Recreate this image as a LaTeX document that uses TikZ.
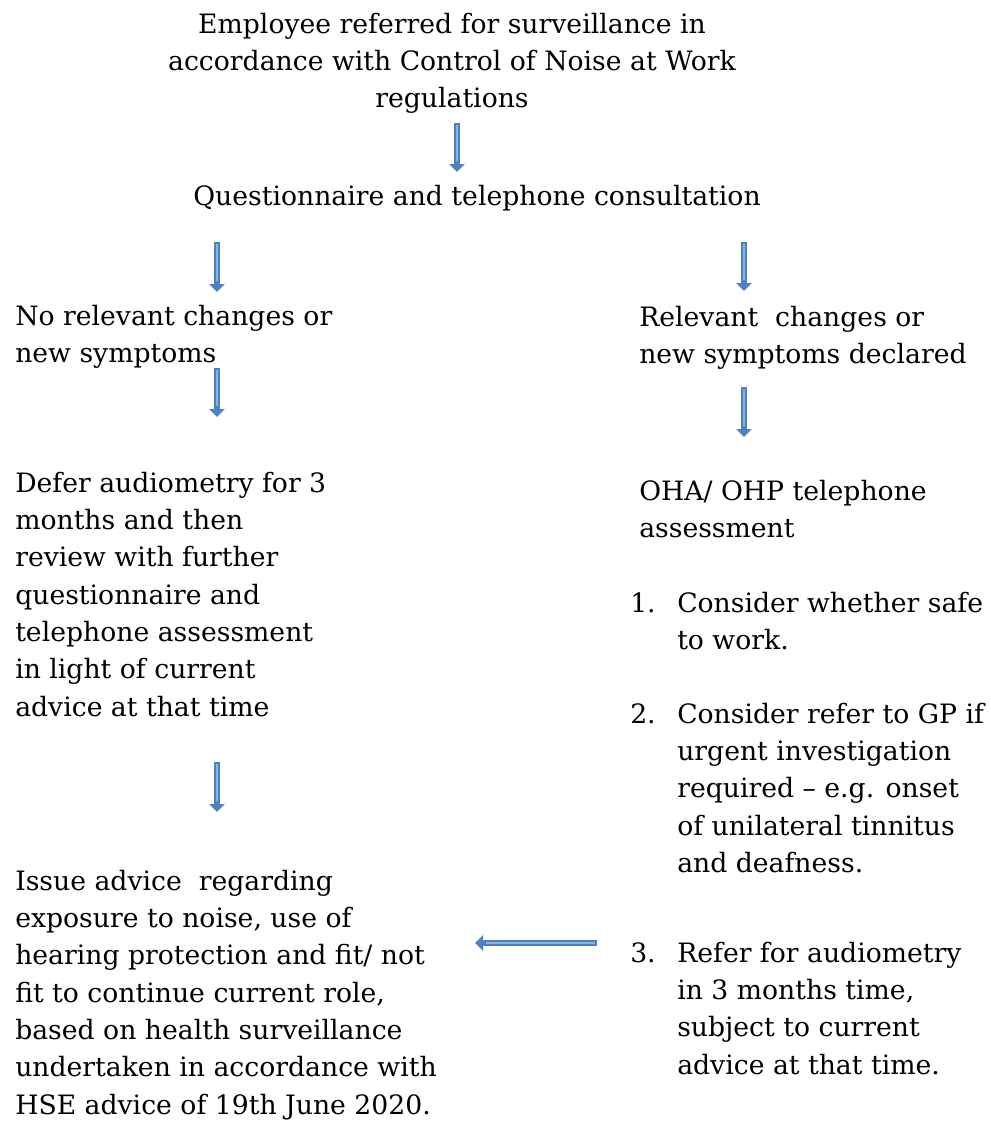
\documentclass[tikz,border=0pt]{standalone}
\usepackage{fontspec}
\setmainfont{DejaVu Serif}
\usetikzlibrary{arrows.meta}
\definecolor{arrowdark}{HTML}{4F81BD}
\definecolor{arrowlight}{HTML}{8CB2E2}
\newcommand\linesL[1]{\vtop{\baselineskip=28pt\lineskiplimit=-100pt\halign{##\hfil\cr#1\crcr}}}
\newcommand\linesC[1]{\vtop{\baselineskip=28pt\lineskiplimit=-100pt\halign{\hfil##\hfil\cr#1\crcr}}}
\tikzset{
  txt/.style={inner sep=0pt, font=\fontsize{20pt}{28pt}\selectfont},
  blk/.style={line width=5pt, draw=arrowdark, -{Triangle[width=11.5pt,length=6pt]}},
  blkhi/.style={line width=1.6pt, draw=arrowlight},
}
\begin{document}
\begin{tikzpicture}[x=0.75pt,y=-0.75pt]
\useasboundingbox (0,0) rectangle (990,1122);
% texts
\node[txt,anchor=base] (title) at (452,33) {\linesC{Employee referred for surveillance in\cr accordance with Control of Noise at Work\cr regulations}};
\node[txt,anchor=base] (quest) at (477,205) {Questionnaire and telephone consultation};
\node[txt,anchor=base west] (noch) at (15,325) {\linesL{No relevant changes or\cr new symptoms}};
\node[txt,anchor=base west] (relch) at (639,326) {\linesL{Relevant\ \ changes or\cr new symptoms declared}};
\node[txt,anchor=base west] (defer) at (15,492) {\linesL{Defer audiometry for 3\cr months and then\cr review with further\cr questionnaire and\cr telephone assessment\cr in light of current\cr advice at that time}};
\node[txt,anchor=base west] (oha) at (639,500) {\linesL{OHA/ OHP telephone\cr assessment}};
\node[txt,anchor=base west] (n1) at (630,612) {1.};
\node[txt,anchor=base west] (item1) at (677,612) {\linesL{Consider whether safe\cr to work.}};
\node[txt,anchor=base west] (n2) at (630,723) {2.};
\node[txt,anchor=base west] (item2) at (677,723) {\linesL{Consider refer to GP if\cr urgent investigation\cr required – e.g. onset\cr of unilateral tinnitus\cr and deafness.}};
\node[txt,anchor=base west] (n3) at (630,962) {3.};
\node[txt,anchor=base west] (item3) at (677,962) {\linesL{Refer for audiometry\cr in 3 months time,\cr subject to current\cr advice at that time.}};
\node[txt,anchor=base west] (issue) at (15,890) {\linesL{Issue advice\ \ regarding\cr exposure to noise, use of\cr hearing protection and fit/ not\cr fit to continue current role,\cr based on health surveillance\cr undertaken in accordance with\cr HSE advice of 19th June 2020.}};
% arrow end points
\coordinate (a1s) at (457,123); \coordinate (a1e) at (457,172);
\coordinate (a2s) at (217,242); \coordinate (a2e) at (217,292);
\coordinate (a3s) at (744,242); \coordinate (a3e) at (744,291);
\coordinate (a4s) at (217,368); \coordinate (a4e) at (217,417);
\coordinate (a5s) at (744,387); \coordinate (a5e) at (744,437);
\coordinate (a6s) at (217,762); \coordinate (a6e) at (217,812);
\coordinate (a7s) at (597,943); \coordinate (a7e) at (475,943);
\foreach \s/\e in {a1s/a1e,a2s/a2e,a3s/a3e,a4s/a4e,a5s/a5e,a6s/a6e,a7s/a7e}{
  \draw[blk] (\s) -- (\e);
  \draw[blkhi,shorten <=1.5pt,shorten >=8pt] (\s) -- (\e);
}
\end{tikzpicture}
\end{document}
